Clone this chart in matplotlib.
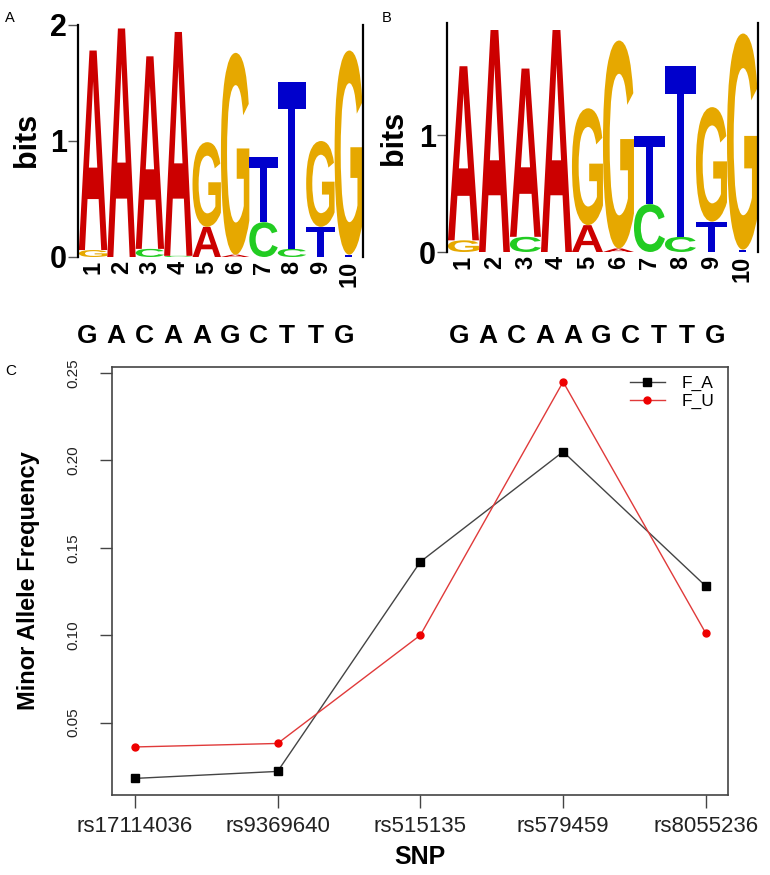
import matplotlib
matplotlib.use('Agg')
import matplotlib.pyplot as plt
from matplotlib.textpath import TextPath
from matplotlib.patches import PathPatch
from matplotlib.font_manager import FontProperties
from matplotlib.transforms import Affine2D

plt.rcParams['font.family'] = ['Liberation Sans', 'DejaVu Sans']

# ---- data ----
positions = list(range(1, 11))
bases = ['A', 'C', 'G', 'T']
base_colors = {'A': '#cc0000', 'C': '#22cc22', 'G': '#e6a800', 'T': '#0000cc'}

# panel A logo, information (bits) per base and position
logo_a_A = [1.72, 1.97, 1.66, 1.93, 0.26, 0.02, 0.00, 0.00, 0.00, 0.00]
logo_a_C = [0.00, 0.00, 0.07, 0.01, 0.00, 0.00, 0.30, 0.07, 0.00, 0.00]
logo_a_G = [0.06, 0.00, 0.00, 0.00, 0.73, 1.74, 0.00, 0.00, 0.74, 1.76]
logo_a_T = [0.00, 0.00, 0.00, 0.00, 0.00, 0.00, 0.56, 1.44, 0.26, 0.02]

# panel B logo
logo_b_A = [1.49, 1.90, 1.44, 1.90, 0.23, 0.03, 0.00, 0.00, 0.00, 0.00]
logo_b_C = [0.00, 0.00, 0.13, 0.00, 0.00, 0.00, 0.41, 0.13, 0.00, 0.00]
logo_b_G = [0.10, 0.00, 0.00, 0.00, 1.00, 1.78, 0.00, 0.00, 0.98, 1.85]
logo_b_T = [0.00, 0.00, 0.00, 0.00, 0.00, 0.00, 0.58, 1.46, 0.26, 0.02]

consensus = ['G', 'A', 'C', 'A', 'A', 'G', 'C', 'T', 'T', 'G']

# panel C
snps = ['rs17114036', 'rs9369640', 'rs515135', 'rs579459', 'rs8055236']
f_a = [0.018, 0.022, 0.142, 0.205, 0.128]
f_u = [0.036, 0.038, 0.100, 0.245, 0.101]
y_ticks_c = [0.05, 0.10, 0.15, 0.20, 0.25]

W, H = 770, 875
fig = plt.figure(figsize=(7.7, 8.75), dpi=100)


def px_axes(l, t, r, b):
    return fig.add_axes([l / W, 1 - b / H, (r - l) / W, (b - t) / H])


def fig_text(x, y, s, **kw):
    fig.text(x / W, 1 - y / H, s, **kw)


glyph_font = FontProperties(family='Liberation Sans', weight='bold')


def draw_letter(ax, letter, x, y, w, h, color):
    tp = TextPath((0, 0), letter, size=1, prop=glyph_font)
    bb = tp.get_extents()
    tr = (Affine2D().translate(-bb.x0, -bb.y0)
          .scale(w / bb.width, h / bb.height)
          .translate(x - w / 2, y))
    ax.add_patch(PathPatch(tp, transform=tr + ax.transData, fc=color, ec='none'))


def draw_logo(ax, heights, ymax, yticks):
    for i, pos in enumerate(positions):
        stack = sorted((heights[b][i], b) for b in bases if heights[b][i] > 0)
        y = 0
        for h, b in stack:
            draw_letter(ax, b, pos, y, 1.0, h, base_colors[b])
            y += h
    ax.set_xlim(0.47, 10.5)
    ax.set_ylim(0, ymax)
    for s in ['top', 'bottom']:
        ax.spines[s].set_visible(False)
    for s in ['left', 'right']:
        ax.spines[s].set_linewidth(1.6)
        ax.spines[s].set_color('black')
    ax.set_yticks(yticks, [str(t) for t in yticks], fontsize=22, fontweight='bold')
    ax.tick_params(axis='y', length=7, width=1, color='#555555', pad=1)
    ax.set_xticks(positions, [str(p) for p in positions], rotation=90,
                  fontsize=17, fontweight='bold')
    ax.tick_params(axis='x', length=0, pad=3)


ax_a = px_axes(78, 25, 363, 257)
draw_logo(ax_a, {'A': logo_a_A, 'C': logo_a_C, 'G': logo_a_G, 'T': logo_a_T}, 2.0, [0, 1, 2])

ax_b = px_axes(447, 23, 758, 252)
draw_logo(ax_b, {'A': logo_b_A, 'C': logo_b_C, 'G': logo_b_G, 'T': logo_b_T}, 1.96, [0, 1])

fig_text(27, 140, 'bits', rotation=90, ha='center', va='center', fontsize=22, fontweight='bold')
fig_text(394, 138, 'bits', rotation=90, ha='center', va='center', fontsize=22, fontweight='bold')

for i, letter in enumerate(consensus):
    fig_text(87.5 + 28.5 * i, 343, letter, ha='center', va='baseline', fontsize=19, fontweight='bold')
    fig_text(459 + 28.5 * i, 343, letter, ha='center', va='baseline', fontsize=19, fontweight='bold')

fig_text(10, 22, 'A', ha='center', va='baseline', fontsize=10.5)
fig_text(387, 22, 'B', ha='center', va='baseline', fontsize=10.5)
fig_text(11, 375, 'C', ha='center', va='baseline', fontsize=11)

# ---- panel C ----
ax_c = px_axes(112, 367, 728, 795)
x = list(range(1, len(snps) + 1))
ax_c.plot(x, f_a, color='#444444', lw=1, marker='s', ms=6, mfc='black', mec='black', label='F_A')
ax_c.plot(x, f_u, color='#e03a3a', lw=1, marker='o', ms=5, mfc='#ee0000', mec='#ee0000', label='F_U')
ax_c.set_xlim(0.84, 5.155)
ax_c.set_ylim(0.0085, 0.2535)
ax_c.set_xticks(x, snps, fontsize=16)
ax_c.set_yticks(y_ticks_c, ['%.2f' % v for v in y_ticks_c], rotation=90, va='center', fontsize=11)
ax_c.tick_params(axis='both', length=9, width=1, color='#444444', labelcolor='#222222')
ax_c.tick_params(axis='y', pad=14)
ax_c.tick_params(axis='x', pad=6)
for s in ax_c.spines.values():
    s.set_color('#444444')
    s.set_linewidth(1.2)
ax_c.legend(loc='upper left', bbox_to_anchor=(630 / W, 1 - 376 / H), bbox_transform=fig.transFigure,
            frameon=False, fontsize=12.5, handlelength=2.0, handletextpad=1.0,
            labelspacing=0.15, borderpad=0, borderaxespad=0)

fig_text(29, 581, 'Minor Allele Frequency', rotation=90, ha='center', va='center',
         fontsize=17, fontweight='bold')
fig_text(420, 864, 'SNP', ha='center', va='baseline', fontsize=18, fontweight='bold')

plt.savefig('out.png', dpi=100)
